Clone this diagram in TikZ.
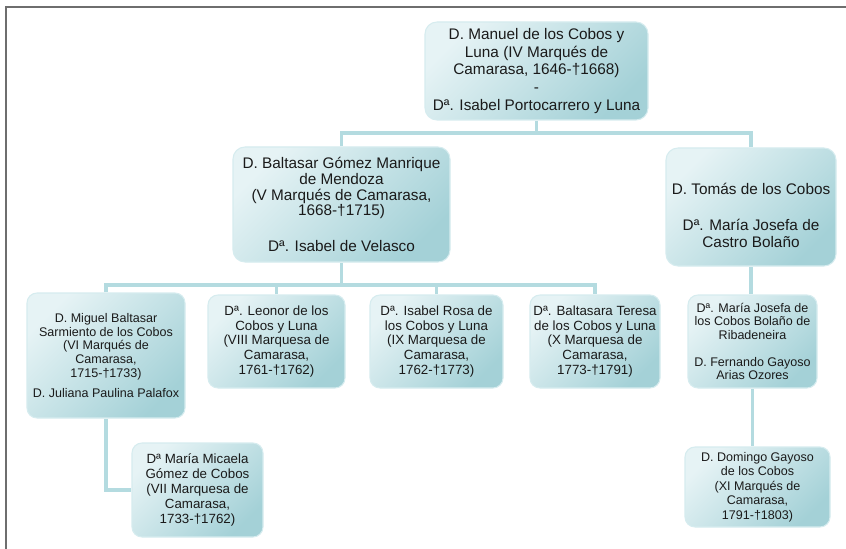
\documentclass[tikz,border=0pt]{standalone}
\usepackage{fontspec}
\setmainfont{Liberation Sans}
\usetikzlibrary{backgrounds}
\definecolor{boxlight}{HTML}{E6F3F5}
\definecolor{boxdark}{HTML}{A4D1D7}
\definecolor{boxedge}{HTML}{D6ECEF}
\definecolor{linkc}{HTML}{B4DBE0}
\definecolor{framec}{HTML}{6E6E6E}
\definecolor{txt}{HTML}{1A1A1A}
\begin{document}
\begin{tikzpicture}[x=0.75pt,y=-0.75pt,
  famboxA/.style={rounded corners=9pt, top color=boxlight, bottom color=boxdark, shading angle=45,
    draw=boxedge, line width=0.8pt, align=center, text=txt, inner sep=0pt},
  famboxB/.style={famboxA, rounded corners=7.5pt},
  midtext/.style={font=\fontsize{10}{11.2}\selectfont},
  smalltext/.style={font=\fontsize{9.4}{10.2}\selectfont},
  link/.style={draw=linkc, line width=2.6pt},
  framel/.style={draw=framec, line width=1.5pt}
]
\useasboundingbox (0,0) rectangle (846,549);

\node[famboxA, font=\fontsize{11.5}{13.2}\selectfont, minimum width=167.25pt, minimum height=73.5pt] (top) at (536.5,71)
  {D. Manuel de los Cobos y\\Luna (IV Marqués de\\Camarasa, 1646-†1668)\\-\\Dª. Isabel Portocarrero y Luna};

\node[famboxA, font=\fontsize{11.5}{11.8}\selectfont, minimum width=162.75pt, minimum height=86.25pt] (balt) at (341.5,204.5)
  {D. Baltasar Gómez Manrique\\de Mendoza\\(V Marqués de Camarasa,\\1668-†1715)\\[15pt]Dª. Isabel de Velasco};

\node[famboxA, minimum width=127.5pt, minimum height=88.5pt,
  label={[align=center, text=txt, font=\fontsize{11.5}{12.8}\selectfont, yshift=-6.5pt]center:D. Tomás de los Cobos\\[14pt]Dª. María Josefa de\\Castro Bolaño}] (tomas) at (751,207) {};

\node[famboxB, smalltext, minimum width=118.5pt, minimum height=93.75pt] (miguel) at (106,355.5)
  {D. Miguel Baltasar\\Sarmiento de los Cobos\\(VI Marqués de\\Camarasa,\\1715-†1733)\\[5pt]D. Juliana Paulina Palafox};

\node[famboxB, midtext, minimum width=102.75pt, minimum height=69.75pt] (leonor) at (276.5,341.5)
  {Dª. Leonor de los\\Cobos y Luna\\(VIII Marquesa de\\Camarasa,\\1761-†1762)};

\node[famboxB, midtext, minimum width=99.75pt, minimum height=69.75pt] (isabel) at (436.5,341.5)
  {Dª. Isabel Rosa de\\los Cobos y Luna\\(IX Marquesa de\\Camarasa,\\1762-†1773)};

\node[famboxB, midtext, minimum width=97.5pt, minimum height=69.75pt] (baltasara) at (595,341.5)
  {Dª. Baltasara Teresa\\de los Cobos y Luna\\(X Marquesa de\\Camarasa,\\1773-†1791)};

\node[famboxB, smalltext, minimum width=96.75pt, minimum height=69.75pt] (mjosefa) at (752.5,341.5)
  {Dª. María Josefa de\\los Cobos Bolaño de\\Ribadeneira\\[10pt]D. Fernando Gayoso\\Arias Ozores};

\node[famboxB, midtext, minimum width=98.25pt, minimum height=70.5pt] (micaela) at (197.5,490)
  {Dª María Micaela\\Gómez de Cobos\\(VII Marquesa de\\Camarasa,\\1733-†1762)};

\node[famboxB, font=\fontsize{9.4}{10.9}\selectfont, minimum width=108.75pt, minimum height=60pt] (domingo) at (757.5,487)
  {D. Domingo Gayoso\\de los Cobos\\(XI Marqués de\\Camarasa,\\1791-†1803)};

\coordinate (bus1) at (0,133);
\coordinate (bus2) at (0,285);
\coordinate (frameBL) at (6,549);
\coordinate (frameTL) at (6,7);
\coordinate (frameTR) at (846,7);

\begin{pgfonlayer}{background}
  \fill[white] (0,0) rectangle (846,549);
  \draw[link] (top.south) -- (top.south |- bus1);
  \draw[link] (balt.north) -- (balt.north |- bus1) -- (tomas.north |- bus1) -- (tomas.north);
  \draw[link] (balt.south) -- (balt.south |- bus2);
  \draw[link] (miguel.north) -- (miguel.north |- bus2) -- (baltasara.north |- bus2) -- (baltasara.north);
  \draw[link] (leonor.north) -- (leonor.north |- bus2);
  \draw[link] (isabel.north) -- (isabel.north |- bus2);
  \draw[link] (tomas.south) -- (tomas.south |- mjosefa.north);
  \draw[link] (miguel.south) |- (micaela.west);
  \draw[link] (mjosefa.south) -- (mjosefa.south |- domingo.north);
\end{pgfonlayer}

\draw[framel] (frameBL) -- (frameTL) -- (frameTR);
\end{tikzpicture}
\end{document}
